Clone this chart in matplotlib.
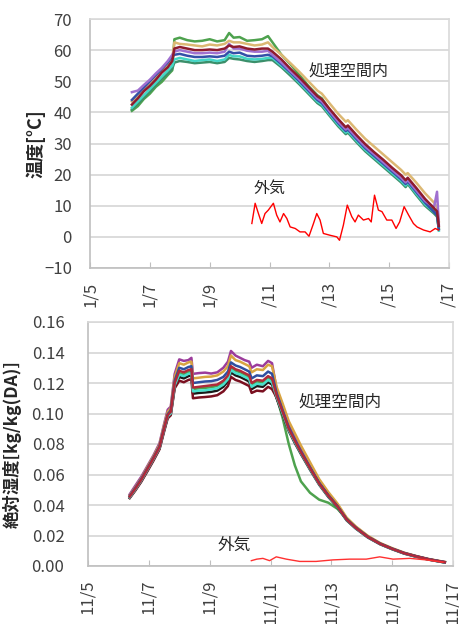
import numpy as np
import matplotlib
matplotlib.use("Agg")
import matplotlib.pyplot as plt

plt.rcParams['font.family'] = ['Noto Sans CJK JP', 'DejaVu Sans']

# ---- temperature chart ----
t_days = [6.40, 6.60, 6.80, 7.00, 7.20, 7.40, 7.60, 7.75, 7.82, 8.00, 8.25, 8.50,
          8.75, 9.00, 9.25, 9.50, 9.65, 9.80, 10.00, 10.25, 10.50, 10.75, 10.95,
          11.10, 11.40, 11.70, 12.00, 12.30, 12.60, 12.75, 13.00, 13.30, 13.55,
          13.62, 13.90, 14.20, 14.50, 14.80, 15.10, 15.40, 15.55, 15.62, 15.90,
          16.20, 16.50, 16.60, 16.66]

temp_green = [40.5, 42.0, 44.3, 46.0, 48.2, 49.8, 52.0, 53.5,
              63.5, 64.0, 63.2, 62.8, 63.0, 63.5, 62.8, 63.2, 65.5, 64.0, 64.2, 63.0, 63.2, 63.5, 64.5,
              62.5, 58.5, 55.5, 52.0, 48.5, 45.5, 44.5, 41.0, 37.5, 35.0, 35.5, 32.0, 29.0, 26.5,
              24.0, 21.5, 19.0, 17.5, 18.5, 15.0, 11.5, 8.5, 7.5, 3.0]
temp_tan = [43.5, 45.5, 47.5, 49.5, 51.5, 53.5, 55.5, 57.5,
            62.5, 62.0, 61.8, 61.5, 61.2, 61.8, 61.5, 62.0, 63.0, 62.5, 62.5, 62.0, 61.5, 61.8, 62.5,
            61.0, 58.5, 55.8, 53.0, 50.0, 47.0, 46.0, 43.0, 39.5, 37.0, 37.5, 34.5, 31.5, 29.0,
            26.5, 24.0, 21.5, 20.0, 20.5, 17.5, 14.0, 11.0, 9.5, 5.0]
temp_maroon = [42.5, 44.5, 46.8, 48.5, 50.5, 52.8, 54.5, 56.5,
               60.5, 61.0, 60.5, 60.0, 60.0, 60.2, 60.0, 60.5, 61.5, 61.0, 61.2, 60.5, 60.2, 60.5, 60.5,
               59.5, 57.0, 54.0, 51.2, 48.2, 45.2, 44.2, 41.2, 37.8, 35.2, 35.8, 32.8, 29.8, 27.2,
               24.8, 22.2, 19.8, 18.2, 19.0, 15.8, 12.2, 9.2, 8.2, 3.5]
temp_purple = [46.5, 47.0, 48.8, 50.5, 52.5, 54.3, 56.5, 58.5,
               59.5, 60.0, 59.5, 59.0, 59.0, 59.2, 59.0, 59.5, 62.0, 60.5, 60.5, 59.8, 59.5, 59.5, 59.8,
               58.5, 56.0, 53.2, 50.5, 47.5, 44.5, 43.5, 40.5, 37.0, 34.5, 35.0, 32.0, 29.0, 26.5,
               24.0, 21.5, 19.0, 17.5, 18.3, 15.0, 11.5, 9.5, 14.5, 4.0]
temp_blue = [44.0, 46.0, 48.0, 50.0, 52.0, 54.0, 56.0, 58.0,
             58.5, 58.8, 58.2, 57.8, 57.8, 58.0, 57.8, 58.2, 59.5, 59.0, 59.2, 58.2, 58.0, 58.2, 58.5,
             58.0, 55.5, 52.8, 50.0, 47.0, 44.0, 43.0, 40.0, 36.5, 34.0, 34.5, 31.5, 28.5, 26.0,
             23.5, 21.0, 18.5, 17.0, 17.8, 14.5, 11.0, 8.0, 7.0, 2.5]
temp_cyan = [41.5, 43.5, 45.5, 47.5, 49.5, 51.5, 53.5, 55.0,
             57.0, 57.5, 57.0, 56.5, 56.8, 57.0, 56.5, 57.0, 58.5, 58.0, 58.0, 57.2, 57.0, 57.2, 57.5,
             57.5, 55.0, 52.5, 49.5, 46.5, 43.5, 42.5, 39.5, 36.0, 33.5, 34.0, 31.0, 28.0, 25.5,
             23.0, 20.5, 18.0, 16.5, 17.5, 14.0, 10.5, 8.0, 7.5, 2.0]
temp_low = [41.0, 42.8, 44.8, 46.8, 48.8, 50.8, 52.5, 54.0,
            56.0, 56.5, 56.2, 55.8, 56.0, 56.2, 55.8, 56.2, 57.5, 57.2, 57.0, 56.5, 56.2, 56.5, 56.8,
            56.8, 54.5, 51.8, 49.0, 46.0, 43.0, 42.0, 39.0, 35.5, 33.0, 33.5, 30.5, 27.5, 25.0,
            22.5, 20.0, 17.5, 16.0, 17.0, 13.5, 10.0, 7.5, 6.5, 2.5]

out_t_days = [10.41, 10.52, 10.63, 10.74, 10.85, 10.96, 11.13, 11.24, 11.35, 11.47,
              11.58, 11.69, 11.86, 12.02, 12.19, 12.32, 12.47, 12.58, 12.69, 12.80,
              13.03, 13.25, 13.34, 13.47, 13.60, 13.75, 13.86, 13.97, 14.14, 14.31,
              14.40, 14.51, 14.64, 14.76, 14.92, 15.09, 15.23, 15.35, 15.50, 15.65,
              15.81, 15.93, 16.15, 16.37, 16.54, 16.65]
out_temp = [4.3, 10.8, 7.5, 4.3, 7.5, 8.6, 10.8, 7.0, 4.8, 7.5,
            5.9, 3.2, 2.7, 1.6, 1.6, 0.2, 4.3, 7.5, 5.4, 1.1,
            0.5, 0.0, -1.1, 3.8, 10.2, 6.5, 4.8, 7.0, 5.4, 5.9,
            4.8, 13.4, 8.6, 8.1, 5.4, 5.4, 2.7, 4.8, 9.7, 7.0,
            4.3, 3.2, 2.2, 1.6, 2.7, 2.2]

# ---- absolute humidity chart ----
h_days = [6.37, 6.55, 6.75, 6.95, 7.15, 7.35, 7.50, 7.62, 7.72, 7.85,
          8.00, 8.15, 8.30, 8.40, 8.45, 8.65, 8.85, 9.05, 9.25, 9.45,
          9.60, 9.70, 9.85, 10.00, 10.15, 10.30, 10.38, 10.55, 10.75, 10.92, 11.05,
          11.20, 11.40, 11.60, 11.80, 12.00, 12.30, 12.60, 12.90, 13.20, 13.50,
          13.80, 14.20, 14.60, 15.00, 15.40, 15.80, 16.20, 16.50, 16.73]

hum_purple = [0.0470, 0.0525, 0.0585, 0.0655, 0.0725, 0.0805, 0.0930, 0.1025, 0.1045, 0.1260,
              0.1355, 0.1345, 0.1350, 0.1365, 0.1260, 0.1265, 0.1268, 0.1262, 0.1270, 0.1300,
              0.1340, 0.1410, 0.1380, 0.1365, 0.1350, 0.1340, 0.1300, 0.1320, 0.1310, 0.1345, 0.1330,
              0.1160, 0.1050, 0.0935, 0.0850, 0.0770, 0.0660, 0.0555, 0.0472, 0.0400, 0.0312,
              0.0256, 0.0195, 0.0149, 0.0115, 0.0086, 0.0064, 0.0045, 0.0034, 0.0026]
hum_tan = [0.0462, 0.0515, 0.0575, 0.0648, 0.0718, 0.0795, 0.0920, 0.1010, 0.1035, 0.1240,
           0.1330, 0.1320, 0.1335, 0.1340, 0.1230, 0.1235, 0.1240, 0.1242, 0.1250, 0.1275,
           0.1310, 0.1380, 0.1350, 0.1340, 0.1325, 0.1310, 0.1270, 0.1290, 0.1285, 0.1320, 0.1310,
           0.1175, 0.1065, 0.0950, 0.0870, 0.0790, 0.0680, 0.0570, 0.0485, 0.0410, 0.0318,
           0.0260, 0.0198, 0.0151, 0.0117, 0.0087, 0.0065, 0.0046, 0.0035, 0.0027]
hum_blue = [0.0458, 0.0510, 0.0570, 0.0640, 0.0710, 0.0785, 0.0905, 0.0995, 0.1020, 0.1215,
            0.1300, 0.1290, 0.1305, 0.1310, 0.1200, 0.1205, 0.1210, 0.1212, 0.1220, 0.1240,
            0.1275, 0.1335, 0.1315, 0.1305, 0.1290, 0.1275, 0.1230, 0.1250, 0.1245, 0.1275, 0.1260,
            0.1135, 0.1020, 0.0910, 0.0828, 0.0752, 0.0646, 0.0545, 0.0464, 0.0393, 0.0307,
            0.0252, 0.0191, 0.0146, 0.0113, 0.0084, 0.0063, 0.0044, 0.0033, 0.0025]
hum_red = [0.0455, 0.0505, 0.0565, 0.0635, 0.0705, 0.0780, 0.0900, 0.0990, 0.1010, 0.1200,
           0.1280, 0.1270, 0.1285, 0.1290, 0.1170, 0.1175, 0.1180, 0.1185, 0.1190, 0.1215,
           0.1250, 0.1310, 0.1290, 0.1280, 0.1265, 0.1250, 0.1200, 0.1220, 0.1215, 0.1245, 0.1230,
           0.1120, 0.1010, 0.0900, 0.0820, 0.0745, 0.0640, 0.0540, 0.0460, 0.0390, 0.0305,
           0.0250, 0.0190, 0.0145, 0.0112, 0.0083, 0.0062, 0.0043, 0.0032, 0.0024]
hum_cyan = [0.0450, 0.0500, 0.0560, 0.0630, 0.0700, 0.0775, 0.0893, 0.0982, 0.1000, 0.1185,
            0.1255, 0.1245, 0.1260, 0.1265, 0.1145, 0.1150, 0.1152, 0.1158, 0.1165, 0.1190,
            0.1225, 0.1285, 0.1265, 0.1255, 0.1240, 0.1225, 0.1175, 0.1195, 0.1190, 0.1220, 0.1205,
            0.1110, 0.1000, 0.0892, 0.0813, 0.0740, 0.0636, 0.0537, 0.0457, 0.0388, 0.0303,
            0.0248, 0.0189, 0.0144, 0.0111, 0.0082, 0.0061, 0.0042, 0.0031, 0.0023]
hum_black = [0.0448, 0.0497, 0.0556, 0.0626, 0.0696, 0.0770, 0.0888, 0.0976, 0.0995, 0.1175,
             0.1240, 0.1230, 0.1245, 0.1250, 0.1130, 0.1135, 0.1138, 0.1142, 0.1150, 0.1175,
             0.1210, 0.1270, 0.1250, 0.1240, 0.1225, 0.1210, 0.1160, 0.1180, 0.1175, 0.1205, 0.1190,
             0.1100, 0.0992, 0.0885, 0.0806, 0.0734, 0.0631, 0.0533, 0.0453, 0.0385, 0.0300,
             0.0246, 0.0187, 0.0143, 0.0110, 0.0081, 0.0060, 0.0042, 0.0031, 0.0023]
hum_maroon = [0.0445, 0.0493, 0.0552, 0.0620, 0.0690, 0.0765, 0.0880, 0.0968, 0.0988, 0.1165,
              0.1215, 0.1205, 0.1220, 0.1225, 0.1100, 0.1105, 0.1108, 0.1112, 0.1120, 0.1145,
              0.1180, 0.1240, 0.1220, 0.1210, 0.1195, 0.1180, 0.1135, 0.1150, 0.1145, 0.1175, 0.1160,
              0.1105, 0.1000, 0.0895, 0.0818, 0.0745, 0.0642, 0.0543, 0.0463, 0.0392, 0.0307,
              0.0252, 0.0192, 0.0147, 0.0113, 0.0084, 0.0063, 0.0044, 0.0033, 0.0025]
hum_green = [0.0452, 0.0502, 0.0562, 0.0632, 0.0702, 0.0778, 0.0896, 0.0985, 0.1005, 0.1190,
             0.1265, 0.1255, 0.1270, 0.1275, 0.1160, 0.1165, 0.1168, 0.1172, 0.1180, 0.1205,
             0.1240, 0.1300, 0.1280, 0.1270, 0.1255, 0.1240, 0.1190, 0.1210, 0.1205, 0.1235, 0.1220,
             0.1110, 0.0970, 0.0800, 0.0660, 0.0555, 0.0480, 0.0435, 0.0415, 0.0375, 0.0310,
             0.0249, 0.0190, 0.0145, 0.0112, 0.0083, 0.0062, 0.0043, 0.0032, 0.0024]

out_h_days = [10.37, 10.55, 10.75, 10.97, 11.19, 11.52, 11.96, 12.50, 13.05, 13.60,
              14.15, 14.59, 15.03, 15.58, 16.12, 16.67]
out_hum = [0.0035, 0.0045, 0.0050, 0.0035, 0.0060, 0.0045, 0.0030, 0.0030, 0.0040, 0.0045,
           0.0045, 0.0060, 0.0045, 0.0050, 0.0040, 0.0025]

tick_days = [5, 7, 9, 11, 13, 15, 17]
top_tick_labels = ['1/5', '1/7', '1/9', '/11', '/13', '/15', '/17']
bottom_tick_labels = ['11/5', '11/7', '11/9', '11/11', '11/13', '11/15', '11/17']

grid_c = '#d9d9d9'
text_c = '#404040'


def style_axes(ax):
    """excel-ish look: grey frame, horizontal grid, small inward x ticks"""
    for s in ax.spines.values():
        s.set_color(grid_c)
        s.set_linewidth(1.2)
    ax.spines['left'].set_color('#bfbfbf')
    ax.spines['bottom'].set_color('#bfbfbf')
    ax.yaxis.grid(True, color=grid_c, linewidth=1.3)
    ax.set_axisbelow(True)
    ax.set_xlim(5, 17)
    ax.set_xticks(tick_days)
    ax.tick_params(axis='x', direction='in', length=4, color='#bfbfbf',
                   labelsize=12, labelcolor=text_c, pad=10)
    ax.tick_params(axis='y', length=0, labelsize=12, labelcolor=text_c)


fig = plt.figure(figsize=(4.59, 6.24), dpi=100)

# top: temperature
ax1 = fig.add_axes([90 / 459, 1 - 268 / 624, 359 / 459, 249 / 624])
style_axes(ax1)
temp_series = [(temp_green, '#4ea24e'), (temp_tan, '#dcb873'), (temp_low, '#3b8f6a'),
               (temp_cyan, '#45d6c6'), (temp_blue, '#3450a8'), (temp_purple, '#a070d0'),
               (temp_maroon, '#8e1b2e')]
for vals, c in temp_series:
    ax1.plot(t_days, vals, color=c, lw=1.8)
ax1.plot(out_t_days, out_temp, color='#ff0000', lw=1.0)
ax1.set_ylim(-10, 70)
ax1.set_yticks(np.arange(-10, 71, 10))
ax1.tick_params(axis='y', pad=13)
ax1.set_xticklabels(top_tick_labels, rotation=90)
ax1.set_ylabel('温度[°C]', fontsize=13, fontweight='bold', color='#262626')
ax1.yaxis.set_label_coords(-0.125, 0.5)
ax1.text(13.65, 53, '処理空間内', fontsize=11.5, color='#262626', ha='center', va='center')
ax1.text(11.0, 15.5, '外気', fontsize=11.5, color='#262626', ha='center', va='center')

# bottom: absolute humidity
ax2 = fig.add_axes([88 / 459, 1 - 566 / 624, 365 / 459, 244 / 624])
style_axes(ax2)
hum_series = [(hum_purple, '#9c3c9c'), (hum_tan, '#d9a441'), (hum_green, '#4ea24e'),
              (hum_black, '#1a1a1a'), (hum_maroon, '#7a1020'), (hum_cyan, '#48e0cc'),
              (hum_blue, '#2f4fa0'), (hum_red, '#b02a3a')]
for vals, c in hum_series:
    ax2.plot(h_days, vals, color=c, lw=1.8)
ax2.plot(out_h_days, out_hum, color='#ff3030', lw=1.0)
ax2.set_ylim(0, 0.16)
ax2.set_yticks(np.arange(0, 0.161, 0.02))
ax2.yaxis.set_major_formatter(matplotlib.ticker.FormatStrFormatter('%.2f'))
ax2.tick_params(axis='y', pad=17)
ax2.set_xticklabels(bottom_tick_labels, rotation=90)
ax2.set_ylabel('絶対湿度[kg/kg(DA)]', fontsize=12.5, fontweight='bold', color='#262626')
ax2.yaxis.set_label_coords(-0.181, 0.5)
ax2.text(13.3, 0.1075, '処理空間内', fontsize=12, color='#262626', ha='center', va='center')
ax2.text(9.8, 0.0135, '外気', fontsize=12, color='#262626', ha='center', va='center')

fig.savefig('out.png', dpi=100)
